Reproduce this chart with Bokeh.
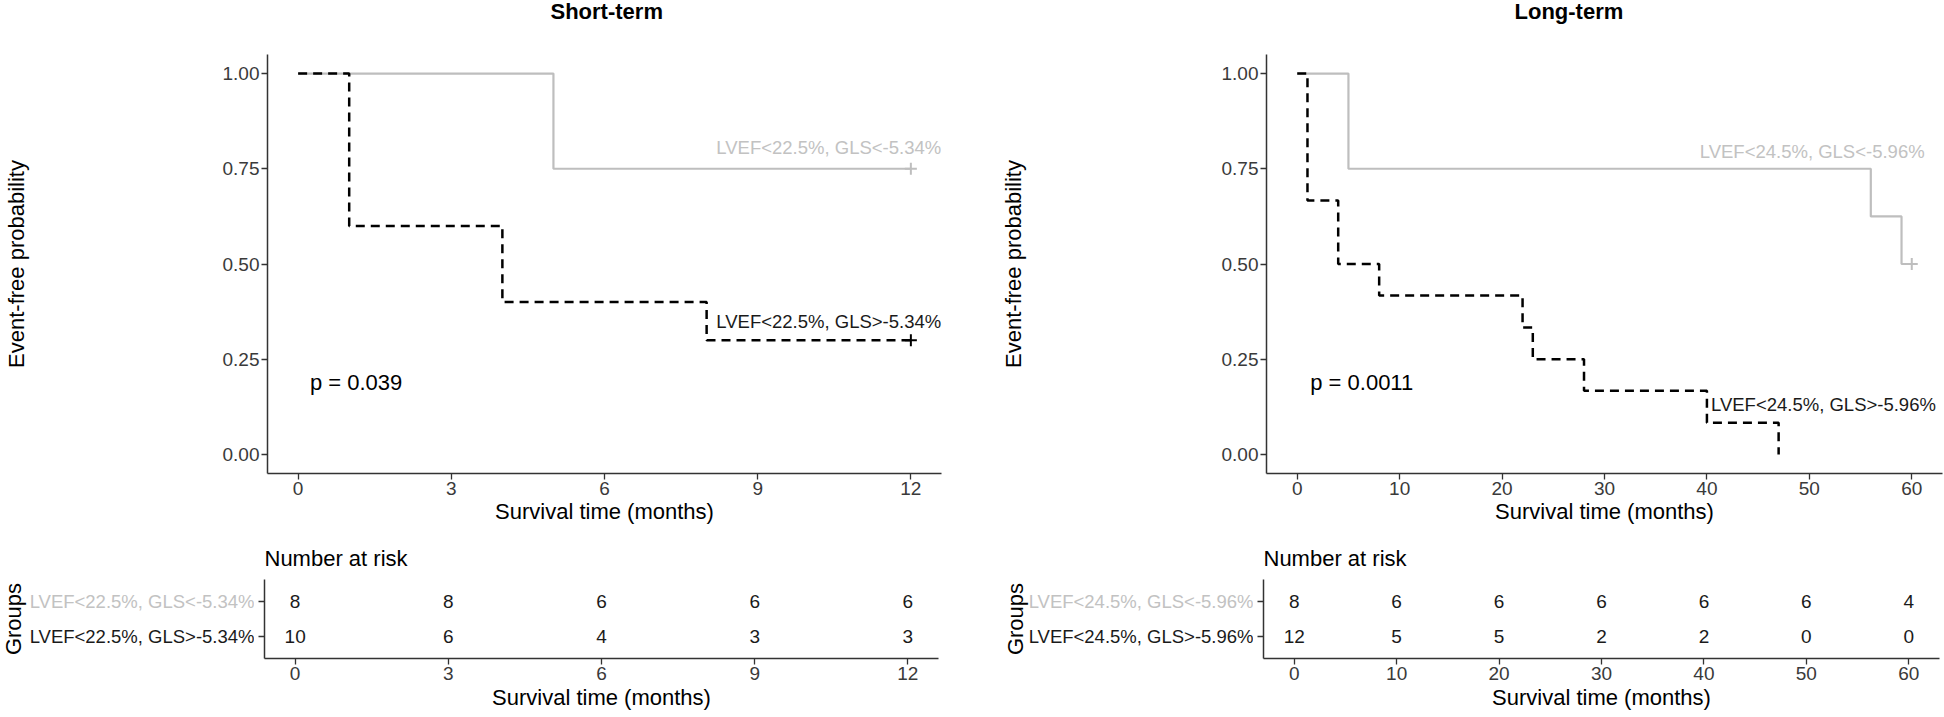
import math
from bokeh.plotting import figure
from bokeh.models import Range1d, FixedTicker, Label, ColumnDataSource
from bokeh.layouts import column, row
from bokeh.embed import file_html
from bokeh.resources import INLINE
from bokeh.core.properties import value

# ---------------- data ----------------
short_title = "Short-term"
long_title = "Long-term"
short_groups = ["LVEF<22.5%, GLS<-5.34%", "LVEF<22.5%, GLS>-5.34%"]
long_groups = ["LVEF<24.5%, GLS<-5.96%", "LVEF<24.5%, GLS>-5.96%"]

short_g1_time = [0, 5, 12]
short_g1_surv = [1.0, 0.75, 0.75]
short_g2_time = [0, 1, 4, 8, 12]
short_g2_surv = [1.0, 0.6, 0.4, 0.3, 0.3]
short_censor_time = [12, 12]
short_censor_surv = [0.75, 0.3]
short_censor_group = [0, 1]

long_g1_time = [0, 5, 56, 59, 60]
long_g1_surv = [1.0, 0.75, 0.625, 0.5, 0.5]
long_g2_time = [0, 1, 4, 8, 22, 23, 28, 40, 47]
long_g2_surv = [1.0, 0.667, 0.5, 0.417, 0.333, 0.25, 0.167, 0.083, 0.0]
long_censor_time = [60]
long_censor_surv = [0.5]
long_censor_group = [0]

short_ticks = [0, 3, 6, 9, 12]
long_ticks = [0, 10, 20, 30, 40, 50, 60]
short_risk = [[8, 8, 6, 6, 6], [10, 6, 4, 3, 3]]
long_risk = [[8, 6, 6, 6, 6, 6, 4], [12, 5, 5, 2, 2, 0, 0]]

y_ticks = [0.0, 0.25, 0.5, 0.75, 1.0]
y_tick_labels = ["0.00", "0.25", "0.50", "0.75", "1.00"]
short_p = "p = 0.039"
long_p = "p = 0.0011"
x_title = "Survival time (months)"
y_title = "Event-free probability"
table_title = "Number at risk"
table_ytitle = "Groups"

# ---------------- styles ----------------
FONT = "Liberation Sans"
COLORS = ["#BEBEBE", "#000000"]
TEXT_COLORS = ["#C2C2C2", "#1A1A1A"]
AXIS_COLOR = "#333333"
TICK_TEXT = "#3A3A3A"
TITLE_H = 30


def style_axes(fig):
    for ax in fig.xaxis + fig.yaxis:
        ax.axis_line_color = AXIS_COLOR
        ax.axis_line_width = 1.5
        ax.major_tick_line_color = AXIS_COLOR
        ax.major_tick_line_width = 1.3
        ax.major_tick_out = 6
        ax.major_tick_in = 0
        ax.minor_tick_line_color = None
        ax.major_label_text_font = FONT
        ax.major_label_text_font_size = "19px"
        ax.major_label_text_color = TICK_TEXT
        ax.major_label_standoff = 2
        ax.axis_label_text_font = FONT
        ax.axis_label_text_font_size = "22px"
        ax.axis_label_text_font_style = "normal"
        ax.axis_label_text_color = "#000000"
    fig.grid.visible = False
    fig.outline_line_color = None


def blank_fig(w, h, bottom=0):
    f = figure(frame_width=w, frame_height=h,
               min_border_left=0, min_border_right=0,
               min_border_top=0, min_border_bottom=bottom,
               x_range=Range1d(0, w), y_range=Range1d(0, h),
               x_axis_type=None, y_axis_type=None,
               output_backend="svg", toolbar_location=None, tools="")
    f.grid.visible = False
    f.outline_line_color = None
    return f


def make_panel(title, title_left, groups, times, survs, cens_t, cens_s, cens_g,
               ticks, risks, pval, pval_xy, name_xy, xmax_data, pad,
               bl, fw, br, ylab_standoff, groups_px, names_px):
    xr = (ticks[0] - pad, xmax_data + pad)
    total_w = bl + fw + br

    # ---------- title strip ----------
    h = blank_fig(total_w, TITLE_H)
    h.add_layout(Label(x=title_left, y=TITLE_H - 11, text=title, text_align="left",
                       text_baseline="middle", text_font=FONT, text_font_size="22px",
                       text_font_style="bold", text_color="#000000"))

    # ---------- survival curves ----------
    p = figure(frame_width=fw, frame_height=419,
               min_border_left=bl, min_border_right=br,
               min_border_top=54 - TITLE_H, min_border_bottom=57,
               x_range=Range1d(*xr), y_range=Range1d(-0.05, 1.05),
               output_backend="svg", toolbar_location=None, tools="")
    style_axes(p)
    p.xaxis.ticker = FixedTicker(ticks=ticks)
    p.yaxis.ticker = FixedTicker(ticks=y_ticks)
    p.yaxis.major_label_overrides = {t: l for t, l in zip(y_ticks, y_tick_labels)}
    p.xaxis.axis_label = x_title
    p.xaxis.axis_label_standoff = 1
    p.yaxis.axis_label = y_title
    p.yaxis.axis_label_standoff = ylab_standoff

    p.step(x=times[0], y=survs[0], mode="after", line_color=COLORS[0], line_width=2.2)
    p.step(x=times[1], y=survs[1], mode="after", line_color=COLORS[1], line_width=2.5,
           line_dash="9 6")
    p.scatter(x=cens_t, y=cens_s, marker="cross", size=12, line_width=2,
              line_color=[COLORS[g] for g in cens_g])

    p.add_layout(Label(x=pval_xy[0], y=pval_xy[1], text=pval, text_align="left",
                       text_baseline="middle", text_font=FONT, text_font_size="22px",
                       text_color="#000000"))
    for i, g in enumerate(groups):
        p.add_layout(Label(x=name_xy[i][0], y=name_xy[i][1], text=g, text_align="left",
                           text_baseline="middle", text_font=FONT,
                           text_font_size="18.5px", text_color=TEXT_COLORS[i]))

    # ---------- risk table ----------
    n = len(groups)
    ppy = 79 / 2.2                      # pixels per row unit
    ty1 = n + 0.6 + 49 / ppy            # frame extended upward for its heading
    rows = list(range(n, 0, -1))
    tb = 10                             # room for the table's y ticks
    t = figure(frame_width=fw, frame_height=128,
               min_border_left=tb, min_border_right=br,
               min_border_top=0, min_border_bottom=59,
               x_range=Range1d(*xr), y_range=Range1d(0.4, ty1),
               output_backend="svg", toolbar_location=None, tools="")
    style_axes(t)
    t.xaxis.ticker = FixedTicker(ticks=ticks)
    t.xaxis.axis_label = x_title
    t.xaxis.axis_label_standoff = 2
    t.yaxis.ticker = FixedTicker(ticks=rows)
    t.yaxis.major_label_overrides = {k: "" for k in rows}
    t.yaxis.bounds = (0.4, n + 0.6)
    t.yaxis.major_label_standoff = 0

    for i, (g, counts) in enumerate(zip(groups, risks)):
        src = ColumnDataSource(dict(x=ticks, y=[rows[i]] * len(ticks),
                                    t=[str(c) for c in counts]))
        t.text(x="x", y="y", text="t", source=src, text_align="center",
               text_baseline="middle", text_font=value(FONT), text_font_size="19px",
               text_color="#1A1A1A")
    t.add_layout(Label(x=xr[0], y=n + 0.6, y_offset=21, text=table_title,
                       text_align="left", text_baseline="middle", text_font=FONT,
                       text_font_size="22px", text_color="#000000"))

    # ---------- group names beside the table ----------
    gw = bl - tb
    g = figure(frame_width=gw, frame_height=128,
               min_border_left=0, min_border_right=0,
               min_border_top=0, min_border_bottom=59,
               x_range=Range1d(0, gw), y_range=Range1d(0.4, ty1),
               x_axis_type=None, y_axis_type=None,
               output_backend="svg", toolbar_location=None, tools="")
    g.grid.visible = False
    g.outline_line_color = None
    for i, name in enumerate(groups):
        g.add_layout(Label(x=gw - names_px, y=rows[i], text=name, text_align="right",
                           text_baseline="middle", text_font=FONT,
                           text_font_size="18.5px", text_color=TEXT_COLORS[i]))
    g.add_layout(Label(x=groups_px, y=(n + 1) / 2, text=table_ytitle,
                       angle=math.pi / 2, text_align="center", text_baseline="middle",
                       text_font=FONT, text_font_size="22px", text_color="#000000"))
    return h, p, g, t


hL, pL, gL, tL = make_panel(short_title, 550, short_groups,
                            [short_g1_time, short_g2_time], [short_g1_surv, short_g2_surv],
                            short_censor_time, short_censor_surv, short_censor_group,
                            short_ticks, short_risk, short_p, (0.23, 0.19),
                            [(8.19, 0.805), (8.19, 0.349)], 12, 0.6,
                            264, 674, 22, 191, 13, 0)
hR, pR, gR, tR = make_panel(long_title, 554, long_groups,
                            [long_g1_time, long_g2_time], [long_g1_surv, long_g2_surv],
                            long_censor_time, long_censor_surv, long_censor_group,
                            long_ticks, long_risk, long_p, (1.27, 0.19),
                            [(39.3, 0.795), (40.4, 0.131)], 60, 3.0,
                            303, 676, 5, 193, 55, 0)

layout = column(row(hL, hR), row(pL, pR), row(gL, tL, gR, tR))
open("out.html", "w").write(file_html(layout, INLINE))
